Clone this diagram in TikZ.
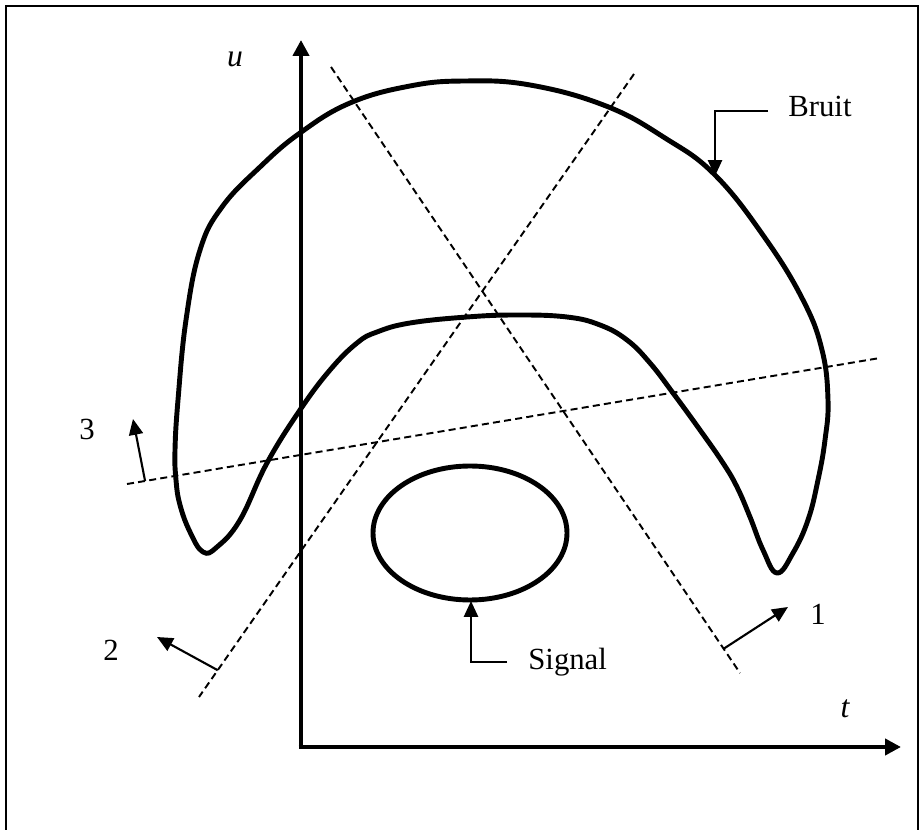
\documentclass[tikz,border=0pt]{standalone}
\usepackage{fontspec}
\setmainfont{Liberation Serif}
\usetikzlibrary{arrows.meta,calc}
\begin{document}
\begin{tikzpicture}[x=0.02cm,y=-0.02cm,
  bigcurve/.style={line width=2.8pt, line join=round},
  axis/.style={line width=2.8pt, -{Triangle[length=9pt,width=9pt]}},
  cut/.style={line width=1.1pt, dash pattern=on 4pt off 2.4pt},
  pointer/.style={line width=1.2pt, -{Triangle[length=9pt,width=8pt]}},
  lbl/.style={font=\fontsize{17.5}{20}\selectfont, inner sep=0pt},
  axlbl/.style={font=\fontsize{18}{20}\selectfont\itshape, inner sep=0pt},
]
\useasboundingbox (0,0) rectangle (923,830);
\draw[line width=0.8pt] (6,840) -- (6,6) -- (918,6) -- (918,840);

% axes
\coordinate (O) at (301,747);
\coordinate (Ytop) at (301,40);
\coordinate (Xend) at (901,747);
\draw[axis] (O) -- (Ytop);
\draw[axis] ([xshift=-1.4pt]O) -- (Xend);
\node[axlbl] (u) at (235,59) {u};
\node[axlbl] (t) at (845,709) {t};

% noise region (Bruit)
\draw[bigcurve] plot[smooth cycle, tension=0.7] coordinates {
 (203,552) (190,532) (180,505) (176,480) (175,450) (178,400)
 (186,320) (200,250) (222,207) (260,167) (300,133) (350,103)
 (410,86) (465,81) (530,85) (606,106) (665,138) (715,175) (765,238)
 (803,300) (822,350) (828,400) (825,440) (818,480) (808,520)
 (793,553) (777,573) (763,550) (750,517) (737,487) (723,463) (700,430)
 (673,393) (650,363) (627,340) (600,325) (567,317) (517,315) (467,317)
 (410,323) (377,332) (357,343) (330,370) (300,410) (267,463) (240,520)
 (217,547)};

% signal region
\draw[bigcurve] (470,533) ellipse [x radius=97, y radius=67];
\coordinate (sigbot) at (471,601);

% cutting lines
\coordinate (a1) at (331,67);  \coordinate (b1) at (740,673);
\coordinate (a2) at (634,74);  \coordinate (b2) at (199,697);
\coordinate (a3) at (127,484); \coordinate (b3) at (880,358);
\draw[cut] (a1) -- (b1);
\draw[cut] (a2) -- (b2);
\draw[cut] (a3) -- (b3);

% direction arrows
\coordinate (p1) at ($(a1)!0.96!(b1)$);
\coordinate (q1) at (788,607);
\draw[pointer] (p1) -- (q1);
\coordinate (p2) at ($(a2)!0.957!(b2)$);
\coordinate (q2) at (157,637);
\draw[pointer] (p2) -- (q2);
\coordinate (p3) at ($(a3)!0.024!(b3)$);
\coordinate (q3) at (133,419);
\draw[pointer] (p3) -- (q3);
\node[lbl] (n1) at (818,614) {1};
\node[lbl] (n2) at (111,650) {2};
\node[lbl] (n3) at (87,429) {3};

% callouts
\node[lbl, anchor=west] (bruit) at (788,106) {Bruit};
\coordinate (bA) at (768,111);
\coordinate (bB) at (715,176);
\draw[pointer] (bA) -| (bB);

\node[lbl, anchor=west] (signal) at (528,662) {Signal};
\coordinate (sA) at (507,662);
\draw[pointer] (sA) -| (sigbot);
\end{tikzpicture}
\end{document}
